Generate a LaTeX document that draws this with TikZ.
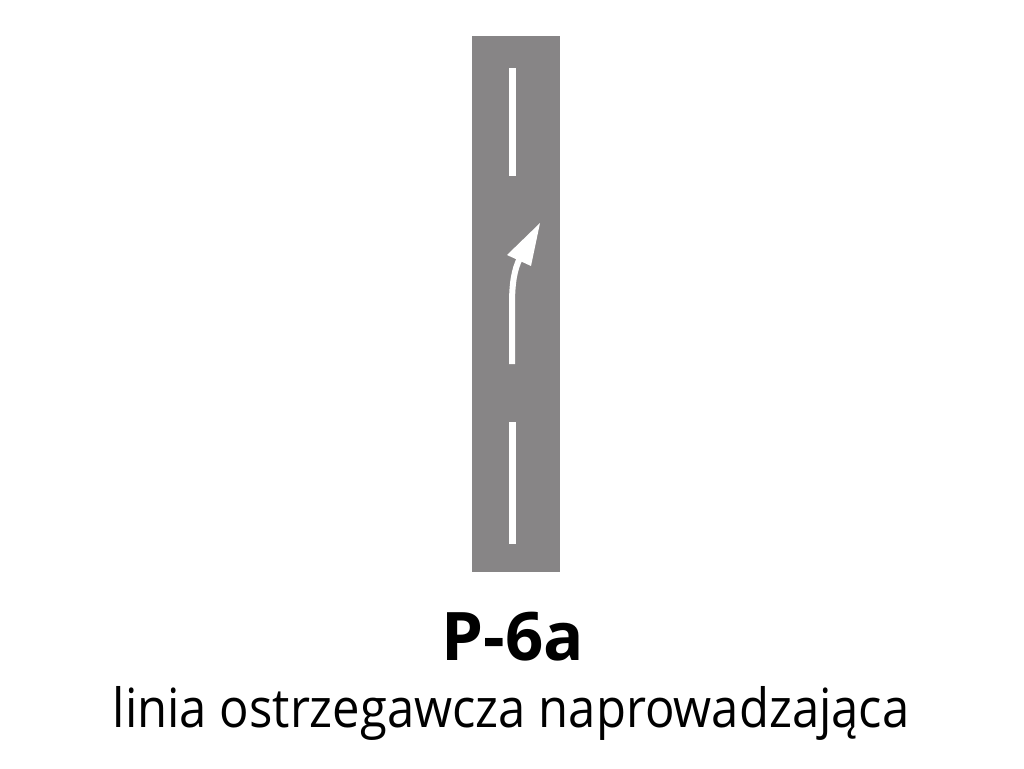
\documentclass[tikz,border=0pt]{standalone}
\usepackage{fontspec}
\setmainfont{Open Sans}
\newfontfamily\subfont[FakeStretch=0.907]{Open Sans}
\definecolor{road}{RGB}{135,133,134}
\begin{document}
\begin{tikzpicture}[x=1pt,y=-1pt,
  mark line/.style={white, line width=6.5pt},
  title text/.style={font=\bfseries\fontsize{67}{70}\selectfont, anchor=base, inner sep=0pt},
  sub text/.style={font=\subfont\fontsize{54}{60}\selectfont, anchor=base, inner sep=0pt}]
\useasboundingbox (0,0) rectangle (1024,768);
\fill[road] (472,36) rectangle (560,572);
\draw[mark line] (512.5,68) -- (512.5,176);
\draw[mark line] (512.5,422) -- (512.5,544);
\draw[white, line width=6pt] (512,364) -- (512,305) .. controls (512,284) and (514,270) .. (520,258);
\fill[white] (540,223) -- (507,255) -- (531,266) -- cycle;
\node[title text] (code) at (513,660) {P-6a};
\node[sub text] (name) at (511,727) {linia ostrzegawcza naprowadzająca};
\end{tikzpicture}
\end{document}
